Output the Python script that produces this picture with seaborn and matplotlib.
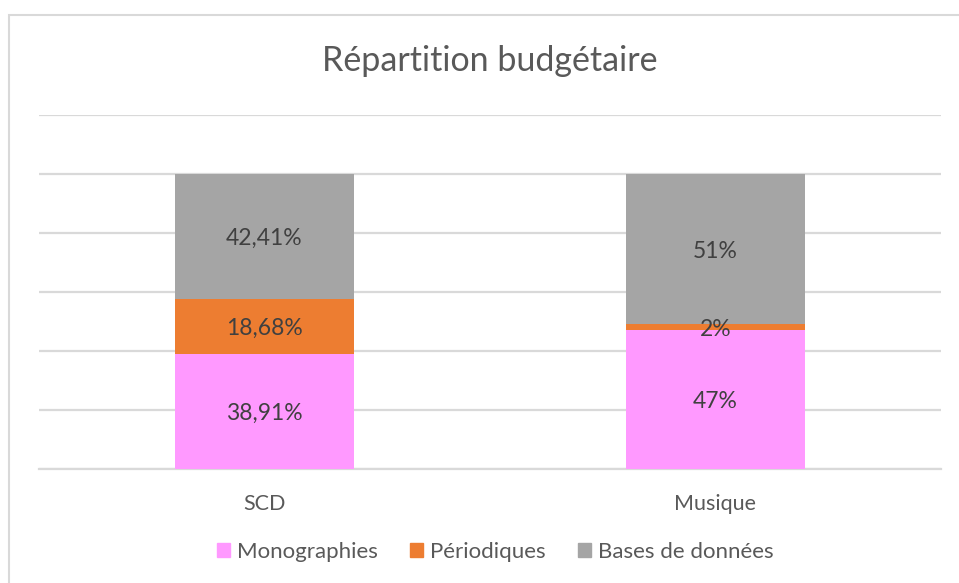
import matplotlib
matplotlib.use('Agg')
import matplotlib.pyplot as plt
from matplotlib.patches import Rectangle
import seaborn as sns
import pandas as pd
import numpy as np

# données
categories = ['SCD', 'Musique']
series = ['Monographies', 'Périodiques', 'Bases de données']
monographies = [38.91, 47]
periodiques = [18.68, 2]
bases = [42.41, 51]
labels_txt = [['38,91%', '47%'], ['18,68%', '2%'], ['42,41%', '51%']]
colors = ['#FF99FF', '#ED7D31', '#A5A5A5']

sns.set_theme(style='white')
plt.rcParams['font.family'] = ['Lato', 'DejaVu Sans']
text_col = '#595959'

df = pd.DataFrame({'cat': categories, 'Monographies': monographies,
                   'Périodiques': periodiques, 'Bases de données': bases})
vals = df[series].to_numpy()
cum = np.cumsum(vals, axis=1)

fig = plt.figure(figsize=(9.59, 5.83), dpi=100)
ax = fig.add_axes([39 / 959, (583 - 469) / 583, (941 - 39) / 959, (469 - 115) / 583])

# barres empilées : on dessine les cumuls de l'arrière vers l'avant
for i in reversed(range(len(series))):
    tmp = pd.DataFrame({'cat': categories, 'v': cum[:, i]})
    sns.barplot(data=tmp, x='cat', y='v', color=colors[i], width=0.395,
                saturation=1, ax=ax, zorder=3, edgecolor='none')

for j in range(len(categories)):
    for i in range(len(series)):
        mid = cum[j, i] - vals[j, i] / 2
        ax.text(j, mid, labels_txt[i][j], ha='center', va='center_baseline',
                fontsize=16.5, color='#404040', zorder=5)

ax.set_ylim(0, 120)
ax.set_yticks(np.arange(0, 121, 20))
ax.yaxis.grid(True, color='#D9D9D9', linewidth=1.6, zorder=0)
ax.set_yticklabels([])
ax.tick_params(axis='y', length=0)
ax.tick_params(axis='x', length=0, labelsize=15.5, labelcolor=text_col, pad=18)
ax.set_xlabel('')
ax.set_ylabel('')
for s in ['top', 'right', 'left']:
    ax.spines[s].set_visible(False)
ax.spines['bottom'].set_color('#D9D9D9')
ax.spines['bottom'].set_linewidth(1.6)

fig.text(490 / 959, 1 - 61 / 583, 'Répartition budgétaire', ha='center', va='center',
         fontsize=24.5, color=text_col)

handles = [Rectangle((0, 0), 1, 1, color=c) for c in colors]
fig.legend(handles, series, loc='center', bbox_to_anchor=(495 / 959, 1 - 552 / 583),
           ncol=3, frameon=False, fontsize=16, labelcolor=text_col,
           handlelength=0.6, handleheight=0.6, handletextpad=0.3, columnspacing=1.45)

# cadre du graphique
fig.patches.append(Rectangle((9 / 959, -0.05), 1.1, 1 - 15 / 583 + 0.05,
                             transform=fig.transFigure, fill=False,
                             edgecolor='#D9D9D9', linewidth=1.5))

fig.savefig('out.png', dpi=100)
